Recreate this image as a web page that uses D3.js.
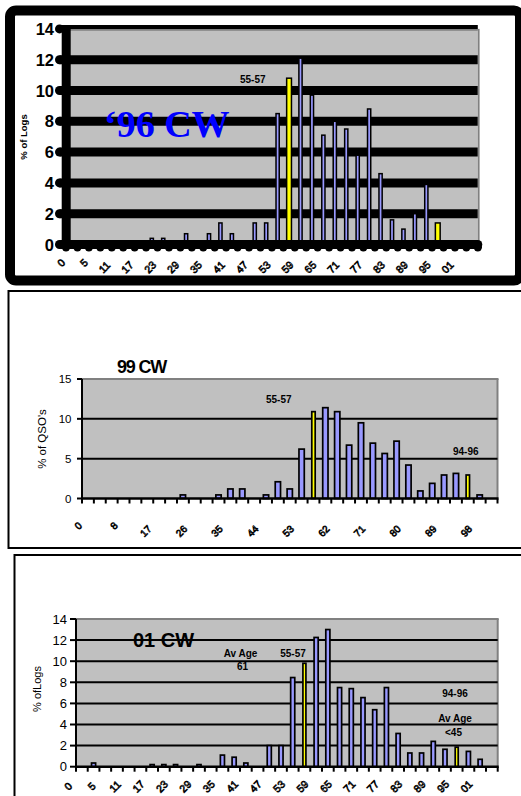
<!DOCTYPE html>
<html><head><meta charset="utf-8">
<script src="https://cdn.jsdelivr.net/npm/d3@7"></script>
<style>html,body{margin:0;padding:0;background:#fff}svg{display:block}</style>
</head><body>
<svg id="chart" width="521" height="796"></svg>
<script>
// ---------- DATA ----------
// Birth-year bins (3-year bins, labelled by centre year); "04" is an empty trailing slot
const categories = ["0","2","5","8","11","14","17","20","23","26","29","32","35","38","41","44","47","50","53","56","59","62","65","68","71","74","77","80","83","86","89","92","95","98","01"];
const categoriesWide = categories.concat(["04"]);
const highlightCats = ["56","95"];        // yellow bars (55-57 and 94-96)

const cw96Values = [0,0,0,0,0,0,0,0.4,0.4,0,0.7,0,0.7,1.4,0.7,0,1.4,1.4,8.5,10.8,12.1,9.7,7.1,8.0,7.5,5.8,8.8,4.6,1.6,1.0,2.0,3.9,1.4,0,0,0];
const cw99Values = [0,0,0,0,0,0,0,0,0.45,0,0,0.45,1.2,1.2,0,0.45,2.1,1.2,6.2,10.9,11.4,10.9,6.7,9.5,6.95,5.65,7.2,4.2,0.95,1.9,2.95,3.15,2.95,0.45,0];
const cw01Values = [0,0.35,0,0,0,0,0.2,0.2,0.2,0,0.2,0,1.1,0.9,0.35,0,2.0,2.0,8.45,9.8,12.25,13.0,7.5,7.4,6.55,5.4,7.5,3.15,1.3,1.3,2.4,1.65,1.85,1.45,0.7,0];

const cw96Ticks = [0,2,4,6,8,10,12,14];
const cw99Ticks = [0,5,10,15];
const cw01Ticks = [0,2,4,6,8,10,12,14];

// ---------- DRAW ----------
const svg = d3.select("#chart");
const SANS = "'Liberation Sans', Arial, sans-serif";
const SERIF = "'Liberation Serif', 'Times New Roman', serif";
const BLUE = "#9999ff", YELLOW = "#ffff00", GRAY = "#c0c0c0", BORDER = "#808080";

// frames
svg.append("rect").attr("x",10).attr("y",10.5).attr("width",510).attr("height",270)
  .attr("rx",6).attr("fill","#fff").attr("stroke","#000").attr("stroke-width",10);
svg.append("rect").attr("x",8.5).attr("y",291).attr("width",530).attr("height",257)
  .attr("fill","none").attr("stroke","#000").attr("stroke-width",2);
svg.append("rect").attr("x",14.5).attr("y",555).attr("width",530).attr("height",260)
  .attr("fill","none").attr("stroke","#000").attr("stroke-width",2);

function drawBars(g, x, y, cats, vals, wBlue, wYellow, sw) {
  const data = cats.map((c,i)=>({c, v: vals[i], hi: highlightCats.includes(c)})).filter(d=>d.v>0);
  g.selectAll(null).data(data).join("rect")
    .attr("x", d => x(d.c) + (x.step() - (d.hi?wYellow:wBlue))/2)
    .attr("width", d => d.hi?wYellow:wBlue)
    .attr("y", d => y(d.v))
    .attr("height", d => y(0) - y(d.v))
    .attr("fill", d => d.hi?YELLOW:BLUE)
    .attr("stroke","#000").attr("stroke-width",sw);
}

function xLabels(g, x, cats, every, y0, fs, dx0, dxl, dy0, dyl) {
  const lab = cats.filter((c,i)=> i%every===0 && c!=="04");
  g.selectAll(null).data(lab).join("text")
    .attr("transform", d => `translate(${x(d)+dx0+dxl*d.length},${y0+dy0+dyl*d.length}) rotate(-45)`)
    .attr("text-anchor","middle").attr("dominant-baseline","central")
    .attr("font-family",SANS).attr("font-size",fs)
    .attr("fill","#fff").attr("stroke","#000").attr("stroke-width",0.75)
    .text(d=>d);
}

// ===== Panel 1: '96 CW =====
(function(){
  const g = svg.append("g");
  const x = d3.scaleBand().domain(categoriesWide).range([66,477.8]).paddingInner(0).paddingOuter(0);
  const y = d3.scaleLinear().domain([0,14]).range([244.5,28.9]);
  const xL = 66, xR = 477.8;
  g.append("rect").attr("x",xL).attr("y",y(14)).attr("width",xR-xL).attr("height",y(0)-y(14)).attr("fill",GRAY);
  const grid = cw96Ticks.filter(t=>t>0 && t<14);
  g.selectAll(null).data(grid).join("line")
    .attr("x1",xL-6.5).attr("x2",xR).attr("y1",d=>y(d)).attr("y2",d=>y(d))
    .attr("stroke","#000").attr("stroke-width",9);
  g.append("line").attr("x1",xL-6.5).attr("x2",xR).attr("y1",y(14)-1.8).attr("y2",y(14)-1.8)
    .attr("stroke","#000").attr("stroke-width",4.4);
  g.append("line").attr("x1",xL).attr("x2",xR).attr("y1",y(14)+0.9).attr("y2",y(14)+0.9)
    .attr("stroke",BORDER).attr("stroke-width",1.8);
  g.append("line").attr("x1",xR+0.9).attr("x2",xR+0.9).attr("y1",y(14)).attr("y2",y(0))
    .attr("stroke",BORDER).attr("stroke-width",1.8);
  g.selectAll(null).data(cw96Ticks).join("circle")
    .attr("cx",xL-6.5).attr("cy",d=>y(d)).attr("r",4.5).attr("fill","#000");
  drawBars(g, x, y, categoriesWide, cw96Values, 3.2, 4.8, 1.5);
  g.append("line").attr("x1",xL+0.2).attr("x2",xL+0.2).attr("y1",y(14)-4).attr("y2",y(0))
    .attr("stroke","#000").attr("stroke-width",9);
  g.append("line").attr("x1",xL-4.5).attr("x2",xR).attr("y1",y(0)).attr("y2",y(0))
    .attr("stroke","#000").attr("stroke-width",9).attr("stroke-linecap","round");
  const bounds = d3.range(categoriesWide.length+1).map(i=>xL + i*x.step());
  g.selectAll(null).data(bounds).join("circle")
    .attr("cx",d=>d).attr("cy",y(0)+2.8).attr("r",4.2).attr("fill","#000");
  g.selectAll(null).data(cw96Ticks).join("text")
    .attr("x",54).attr("y",d=>y(d)).attr("text-anchor","end").attr("dominant-baseline","central")
    .attr("font-family",SANS).attr("font-weight","bold").attr("font-size",16.5).text(d=>d);
  xLabels(g, x, categoriesWide, 2, y(0), 10.5, -2.7, -2.4, 13.5, 4.5);
  g.append("text").attr("transform","translate(23,137) rotate(-90)").attr("text-anchor","middle")
    .attr("dominant-baseline","central").attr("font-family",SANS).attr("font-weight","bold")
    .attr("font-size",9.5).text("% of Logs");
  g.append("text").attr("x",240).attr("y",83).attr("font-family",SANS).attr("font-weight","bold")
    .attr("font-size",10).text("55-57");
  g.append("text").attr("x",104).attr("y",137).attr("font-family",SERIF).attr("font-weight","bold")
    .attr("font-size",38).attr("fill","#0000ff").text("\u201896 CW");
})();

// ===== Panel 2: 99 CW =====
(function(){
  const g = svg.append("g");
  const xL = 82, xR = 497.5;
  const x = d3.scaleBand().domain(categories).range([xL,xR]);
  const y = d3.scaleLinear().domain([0,15]).range([498.5,379]);
  g.append("rect").attr("x",xL).attr("y",y(15)).attr("width",xR-xL).attr("height",y(0)-y(15)).attr("fill",GRAY);
  g.append("line").attr("x1",xL).attr("x2",xR+1).attr("y1",y(15)).attr("y2",y(15)).attr("stroke",BORDER).attr("stroke-width",2);
  g.append("line").attr("x1",xR).attr("x2",xR).attr("y1",y(15)).attr("y2",y(0)).attr("stroke",BORDER).attr("stroke-width",2);
  g.selectAll(null).data(cw99Ticks.filter(t=>t>0&&t<15)).join("line")
    .attr("x1",xL).attr("x2",xR).attr("y1",d=>y(d)).attr("y2",d=>y(d)).attr("stroke","#000").attr("stroke-width",2);
  drawBars(g, x, y, categories, cw99Values, 5.3, 3.4, 1.7);
  g.append("line").attr("x1",xL).attr("x2",xL).attr("y1",y(15)).attr("y2",y(0)).attr("stroke","#000").attr("stroke-width",2);
  g.selectAll(null).data(cw99Ticks).join("line")
    .attr("x1",xL-5).attr("x2",xL).attr("y1",d=>y(d)).attr("y2",d=>y(d)).attr("stroke","#000").attr("stroke-width",2);
  g.append("line").attr("x1",xL-1).attr("x2",xR+1).attr("y1",y(0)).attr("y2",y(0)).attr("stroke","#000").attr("stroke-width",2.5);
  const bounds = d3.range(categories.length+1).map(i=>xL + i*x.step());
  g.selectAll(null).data(bounds).join("line")
    .attr("x1",d=>d).attr("x2",d=>d).attr("y1",y(0)).attr("y2",y(0)+5).attr("stroke","#000").attr("stroke-width",2);
  g.selectAll(null).data(cw99Ticks).join("text")
    .attr("x",71.5).attr("y",d=>y(d)).attr("text-anchor","end").attr("dominant-baseline","central")
    .attr("font-family",SANS).attr("font-size",11.5).text(d=>d);
  xLabels(g, x, categories, 3, y(0), 10, 0, -3.7, 22, 5.3);
  g.append("text").attr("transform","translate(42,439) rotate(-90)").attr("text-anchor","middle")
    .attr("dominant-baseline","central").attr("font-family",SANS).attr("font-size",11.5).text("% of QSO's");
  g.append("text").attr("x",117).attr("y",373).attr("font-family",SANS).attr("font-weight","bold")
    .attr("font-size",18).attr("letter-spacing",-1.2).text("99 CW");
  g.append("text").attr("x",266).attr("y",403).attr("font-family",SANS).attr("font-weight","bold")
    .attr("font-size",10).text("55-57");
  g.append("text").attr("x",453).attr("y",455).attr("font-family",SANS).attr("font-weight","bold")
    .attr("font-size",10).text("94-96");
})();

// ===== Panel 3: 01 CW =====
(function(){
  const g = svg.append("g");
  const xL = 76, xR = 497.7;
  const x = d3.scaleBand().domain(categoriesWide).range([xL,xR]);
  const y = d3.scaleLinear().domain([0,14]).range([766.7,619]);
  g.append("rect").attr("x",xL).attr("y",y(14)).attr("width",xR-xL).attr("height",y(0)-y(14)).attr("fill",GRAY);
  g.append("line").attr("x1",xL).attr("x2",xR+1).attr("y1",y(14)).attr("y2",y(14)).attr("stroke",BORDER).attr("stroke-width",2);
  g.append("line").attr("x1",xR).attr("x2",xR).attr("y1",y(14)).attr("y2",y(0)).attr("stroke",BORDER).attr("stroke-width",2);
  g.selectAll(null).data(cw01Ticks.filter(t=>t>0&&t<14)).join("line")
    .attr("x1",xL).attr("x2",xR).attr("y1",d=>y(d)).attr("y2",d=>y(d)).attr("stroke","#000").attr("stroke-width",2);
  drawBars(g, x, y, categoriesWide, cw01Values, 4.1, 3.0, 1.7);
  g.append("line").attr("x1",xL).attr("x2",xL).attr("y1",y(14)).attr("y2",y(0)).attr("stroke","#000").attr("stroke-width",2);
  g.selectAll(null).data(cw01Ticks).join("line")
    .attr("x1",xL-6).attr("x2",xL).attr("y1",d=>y(d)).attr("y2",d=>y(d)).attr("stroke","#000").attr("stroke-width",2);
  g.append("line").attr("x1",xL-1).attr("x2",xR+1).attr("y1",y(0)).attr("y2",y(0)).attr("stroke","#000").attr("stroke-width",2.5);
  const bounds = d3.range(categoriesWide.length+1).map(i=>xL + i*x.step());
  g.selectAll(null).data(bounds).join("line")
    .attr("x1",d=>d).attr("x2",d=>d).attr("y1",y(0)).attr("y2",y(0)+5).attr("stroke","#000").attr("stroke-width",2);
  g.selectAll(null).data(cw01Ticks).join("text")
    .attr("x",67).attr("y",d=>y(d)).attr("text-anchor","end").attr("dominant-baseline","central")
    .attr("font-family",SANS).attr("font-size",13).text(d=>d);
  xLabels(g, x, categoriesWide, 2, y(0), 10.5, -8, 0, 19.5, 0);
  g.append("text").attr("transform","translate(37,689) rotate(-90)").attr("text-anchor","middle")
    .attr("dominant-baseline","central").attr("font-family",SANS).attr("font-size",11).text("% ofLogs");
  g.append("text").attr("x",133).attr("y",647).attr("font-family",SANS).attr("font-weight","bold")
    .attr("font-size",20).text("01 CW");
  const notes = [
    {t:"Av Age", x:240.5, y:657}, {t:"61", x:242.5, y:670},
    {t:"55-57", x:293, y:657}, {t:"94-96", x:455, y:697},
    {t:"Av Age", x:455, y:722}, {t:"<45", x:453.5, y:736}
  ];
  g.selectAll(null).data(notes).join("text")
    .attr("x",d=>d.x).attr("y",d=>d.y).attr("text-anchor","middle")
    .attr("font-family",SANS).attr("font-weight","bold").attr("font-size",10).text(d=>d.t);
})();
</script>
</body></html>
